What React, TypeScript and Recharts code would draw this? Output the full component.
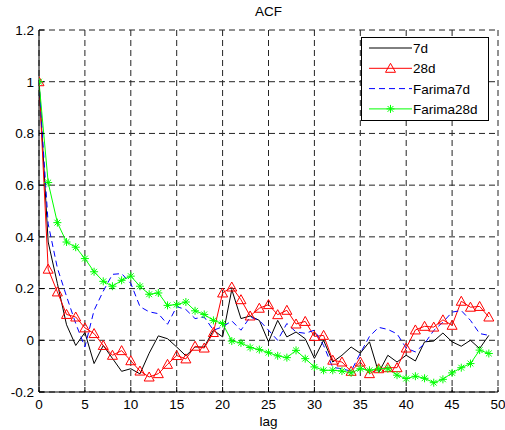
import React from "react";
import {
  CartesianGrid,
  Line,
  LineChart,
  XAxis,
  YAxis,
} from "recharts";

const lags = [
  0, 1, 2, 3, 4, 5, 6, 7, 8, 9, 10, 11, 12, 13, 14, 15, 16, 17, 18, 19, 20, 21, 22, 23, 24,
  25, 26, 27, 28, 29, 30, 31, 32, 33, 34, 35, 36, 37, 38, 39, 40, 41, 42, 43, 44, 45, 46, 47,
  48, 49,
];

const acf7d = [
  1.0, 0.38, 0.22, 0.06, -0.02, 0.03, -0.09, -0.02, -0.07, -0.12, -0.11, -0.13, -0.05, 0.017,
  0.006, -0.026, -0.06, -0.026, -0.026, 0.039, 0.013, 0.196, 0.084, 0.094, 0.077, -0.006, 0.077,
  0.013, 0.032, 0.006, -0.07, 0.0, -0.084, -0.058, -0.026, -0.05, -0.006, -0.125, -0.058, -0.084,
  -0.058, -0.08, -0.006, -0.003, 0.028, -0.006, -0.023, 0.0, -0.032, 0.019,
];

const acf28d = [
  1.0, 0.275, 0.187, 0.1, 0.09, 0.048, 0.026, -0.02, -0.058, -0.04, -0.079, -0.119, -0.142,
  -0.129, -0.093, -0.059, -0.072, -0.023, -0.03, 0.03, 0.183, 0.206, 0.157, 0.094, 0.124, 0.138,
  0.099, 0.116, 0.063, 0.073, 0.015, 0.019, -0.077, -0.084, -0.12, -0.084, -0.129, -0.11, -0.106,
  -0.106, -0.03, 0.04, 0.054, 0.051, 0.079, 0.058, 0.151, 0.128, 0.131, 0.09,
];

const farima7d = [
  1.0, 0.45, 0.28, 0.17, 0.065, -0.026, 0.116, 0.19, 0.255, 0.258, 0.22, 0.13, 0.11, 0.103,
  0.062, 0.13, 0.119, 0.084, 0.09, 0.039, 0.052, 0.075, 0.039, 0.09, 0.077, 0.039, 0.0, 0.065,
  0.032, 0.027, 0.039, -0.02, -0.105, -0.11, -0.12, -0.05, 0.015, 0.05, 0.042, 0.025, -0.03,
  -0.045, -0.013, 0.038, 0.07, 0.109, 0.115, 0.077, 0.026, 0.019,
];

const farima28d = [
  1.0, 0.61, 0.455, 0.38, 0.36, 0.316, 0.265, 0.228, 0.209, 0.232, 0.248, 0.209, 0.178, 0.183,
  0.135, 0.138, 0.148, 0.114, 0.1, 0.077, 0.065, -0.003, -0.01, -0.028, -0.036, -0.048, -0.06,
  -0.067, -0.039, -0.071, -0.103, -0.116, -0.116, -0.119, -0.126, -0.11, -0.116, -0.11, -0.11,
  -0.135, -0.148, -0.139, -0.147, -0.164, -0.151, -0.126, -0.106, -0.09, -0.038, -0.051,
];

const xTicks = [0, 5, 10, 15, 20, 25, 30, 35, 40, 45, 50];
const yTicks = [-0.2, 0, 0.2, 0.4, 0.6, 0.8, 1, 1.2];

const data = lags.map((lag, i) => ({
  lag,
  d7: acf7d[i],
  d28: acf28d[i],
  f7: farima7d[i],
  f28: farima28d[i],
}));

const FONT = "'Liberation Sans', Arial, sans-serif";

function Triangle({ cx, cy }: { cx: number; cy: number }) {
  return (
    <path
      d={`M${cx},${cy - 5}L${cx + 5},${cy + 4}L${cx - 5},${cy + 4}Z`}
      fill="none"
      stroke="#ff0000"
      strokeWidth={1}
    />
  );
}

function Star({ cx, cy }: { cx: number; cy: number }) {
  const r = 4;
  const d = 2.9;
  return (
    <path
      d={`M${cx - r},${cy}H${cx + r}M${cx},${cy - r}V${cy + r}M${cx - d},${cy - d}L${cx + d},${cy + d}M${cx - d},${cy + d}L${cx + d},${cy - d}`}
      stroke="#00ff00"
      strokeWidth={1}
      fill="none"
    />
  );
}

const legendItems = [
  { label: "7d", color: "#000000", dash: undefined, marker: null },
  { label: "28d", color: "#ff0000", dash: undefined, marker: "tri" },
  { label: "Farima7d", color: "#0000ff", dash: "6 4", marker: null },
  { label: "Farima28d", color: "#00ff00", dash: undefined, marker: "star" },
];

// matlab style legend box, drawn on top of the plot
function LegendBox() {
  return (
    <svg width={128} height={84} style={{ display: "block" }}>
      <rect x={0.5} y={0.5} width={127} height={83} fill="#fff" stroke="#000" />
      {legendItems.map((it, i) => {
        const y = 11 + i * 20.3;
        return (
          <g key={it.label}>
            <line x1={8} x2={51} y1={y} y2={y} stroke={it.color} strokeDasharray={it.dash} />
            {it.marker === "tri" && <Triangle cx={29.5} cy={y} />}
            {it.marker === "star" && <Star cx={29.5} cy={y} />}
            <text x={52} y={y + 5} fontSize={13.5} fontFamily={FONT} fill="#000">
              {it.label}
            </text>
          </g>
        );
      })}
    </svg>
  );
}

export default function App() {
  return (
    <div
      style={{
        position: "absolute",
        left: 0,
        top: 0,
        width: 505,
        height: 430,
        background: "#fff",
        fontFamily: FONT,
      }}
    >
      <div
        style={{
          position: "absolute",
          left: 39,
          width: 459,
          top: 4,
          textAlign: "center",
          fontSize: 13.5,
          lineHeight: "16px",
          color: "#000",
        }}
      >
        ACF
      </div>
      <LineChart
        width={505}
        height={430}
        data={data}
        margin={{ top: 30, right: 7, bottom: 0, left: 0 }}
      >
        <CartesianGrid
          stroke="#222"
          strokeDasharray="6 4"
          horizontalValues={yTicks}
          verticalValues={xTicks}
        />
        <XAxis
          dataKey="lag"
          type="number"
          domain={[0, 50]}
          ticks={xTicks}
          allowDataOverflow
          height={38}
          stroke="#000"
          tickSize={-5}
          tickMargin={12}
          tick={{ fill: "#000", fontSize: 13.5, fontFamily: FONT }}
          label={{
            value: "lag",
            position: "insideBottom",
            offset: 4,
            fill: "#000",
            fontSize: 13.5,
            fontFamily: FONT,
          }}
        />
        <XAxis
          xAxisId="top"
          dataKey="lag"
          type="number"
          orientation="top"
          domain={[0, 50]}
          ticks={xTicks}
          height={0}
          stroke="#000"
          tickSize={-5}
          tick={false}
        />
        <YAxis
          type="number"
          domain={[-0.2, 1.2]}
          ticks={yTicks}
          allowDataOverflow
          width={39}
          stroke="#000"
          tickSize={-5}
          tickMargin={10}
          tickFormatter={(v: number) => String(Math.round(v * 10) / 10)}
          tick={{ fill: "#000", fontSize: 13.5, fontFamily: FONT }}
        />
        <YAxis
          yAxisId="right"
          type="number"
          orientation="right"
          domain={[-0.2, 1.2]}
          ticks={yTicks}
          width={0}
          stroke="#000"
          tickSize={-5}
          tick={false}
        />
        <Line dataKey="d7" stroke="#000000" strokeWidth={1} dot={false} isAnimationActive={false} />
        <Line
          dataKey="d28"
          stroke="#ff0000"
          strokeWidth={1}
          dot={(p: any) => <Triangle key={`t${p.index}`} cx={p.cx} cy={p.cy} />}
          isAnimationActive={false}
        />
        <Line
          dataKey="f7"
          stroke="#0000ff"
          strokeWidth={1}
          strokeDasharray="6 4"
          dot={false}
          isAnimationActive={false}
        />
        <Line
          dataKey="f28"
          stroke="#00ff00"
          strokeWidth={1}
          dot={(p: any) => <Star key={`s${p.index}`} cx={p.cx} cy={p.cy} />}
          isAnimationActive={false}
        />
      </LineChart>
      <div style={{ position: "absolute", left: 361, top: 37 }}>
        <LegendBox />
      </div>
    </div>
  );
}
